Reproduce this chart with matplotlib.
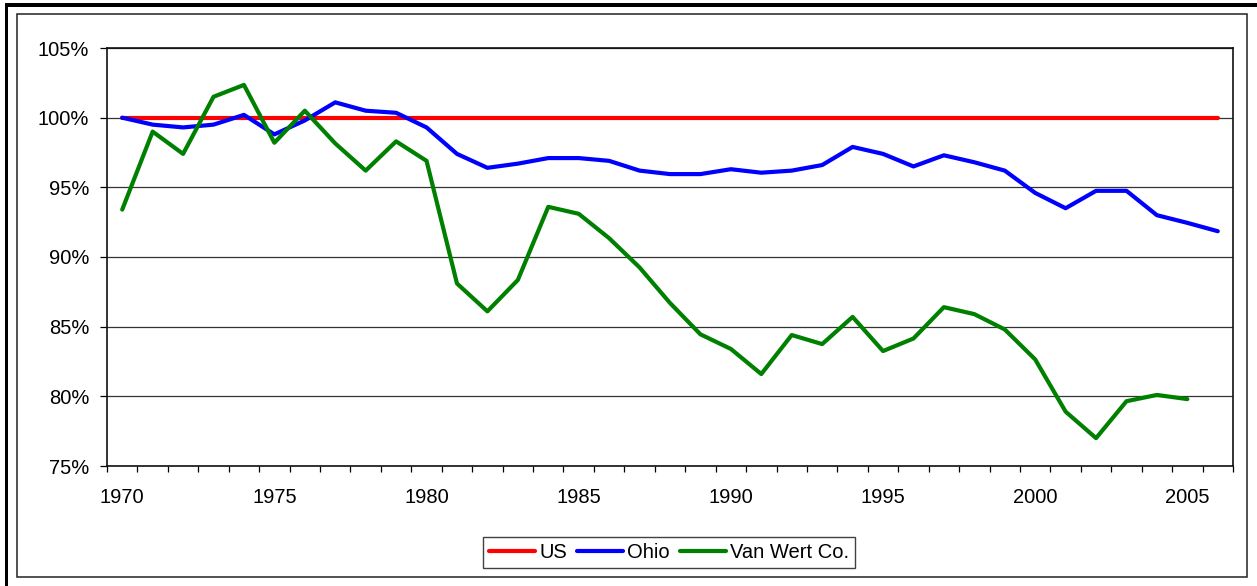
import numpy as np
import matplotlib
matplotlib.use("Agg")
import matplotlib.pyplot as plt
from matplotlib.patches import Rectangle
from matplotlib.ticker import FuncFormatter

plt.rcParams['font.family'] = ['Liberation Sans', 'DejaVu Sans']

years = list(range(1970, 2007))
us = [100.0] * 37
ohio = [100.0, 99.5, 99.3, 99.5, 100.2, 98.8, 99.8, 101.1, 100.5, 100.35,
        99.3, 97.4, 96.4, 96.7, 97.1, 97.1, 96.9, 96.2, 95.95, 95.95,
        96.3, 96.05, 96.2, 96.6, 97.9, 97.4, 96.5, 97.3, 96.8, 96.2,
        94.6, 93.5, 94.75, 94.75, 93.0, 92.45, 91.85]
van_wert = [93.4, 99.0, 97.4, 101.5, 102.35, 98.2, 100.5, 98.15, 96.2, 98.3,
            96.9, 88.1, 86.1, 88.35, 93.6, 93.1, 91.35, 89.25, 86.7, 84.45,
            83.4, 81.6, 84.4, 83.75, 85.7, 83.25, 84.15, 86.4, 85.9, 84.8,
            82.65, 78.9, 77.0, 79.65, 80.1, 79.8]
year_labels = [1970, 1975, 1980, 1985, 1990, 1995, 2000, 2005]
pct_ticks = [75, 80, 85, 90, 95, 100, 105]

W, H = 1257, 586
fig = plt.figure(figsize=(W / 100, H / 100), dpi=100)


def fx(px):
    return px / W


def fy(py):
    return 1 - py / H


# frames around the chart
fig.add_artist(Rectangle((fx(5), fy(6.7)), fx(1257) - fx(5), 4 / H,
                         transform=fig.transFigure, color='black', lw=0))
fig.add_artist(Rectangle((fx(5), 0), 3.3 / W, fy(2.7),
                         transform=fig.transFigure, color='black', lw=0))
fig.add_artist(Rectangle((fx(17), fy(577)), fx(1247) - fx(17), fy(14) - fy(577),
                         transform=fig.transFigure, fill=False,
                         edgecolor='#222222', lw=1.1))

ax = fig.add_axes([fx(107), fy(466), fx(1233) - fx(107), fy(48) - fy(466)])

ax.plot(years, us, color='#FF0000', lw=3.0, label='US', solid_capstyle='round')
ax.plot(years, ohio, color='#0000FF', lw=3.0, label='Ohio', solid_capstyle='round')
ax.plot(years[:len(van_wert)], van_wert, color='#008000', lw=3.0,
        label='Van Wert Co.', solid_capstyle='round')

ax.set_xlim(1969.5, 2006.5)
ax.set_ylim(75, 105)
ax.set_yticks(pct_ticks)
ax.yaxis.set_major_formatter(FuncFormatter(lambda v, p: '%d%%' % v))
ax.set_xticks(year_labels)
ax.set_xticks(np.arange(1969.5, 2007, 1), minor=True)
ax.tick_params(axis='x', which='major', length=0, pad=16, labelsize=14.5)
ax.tick_params(axis='x', which='minor', length=4.3, width=0.9, direction='out')
ax.tick_params(axis='y', which='major', length=4.8, width=0.9, pad=8, labelsize=14.5)
ax.grid(axis='y', color='#333333', lw=0.9)
ax.set_axisbelow(True)
for s in ax.spines.values():
    s.set_color('#111111')
    s.set_linewidth(1.2)

leg = fig.legend(loc='center', bbox_to_anchor=(fx(669), fy(552.5)), ncol=3,
                 fontsize=14.5, frameon=True, fancybox=False, edgecolor='#111111',
                 handlelength=2.3, handletextpad=0.2, columnspacing=0.5,
                 borderpad=0.3, borderaxespad=0)
leg.get_frame().set_linewidth(1.0)

fig.savefig('out.png', dpi=100)
